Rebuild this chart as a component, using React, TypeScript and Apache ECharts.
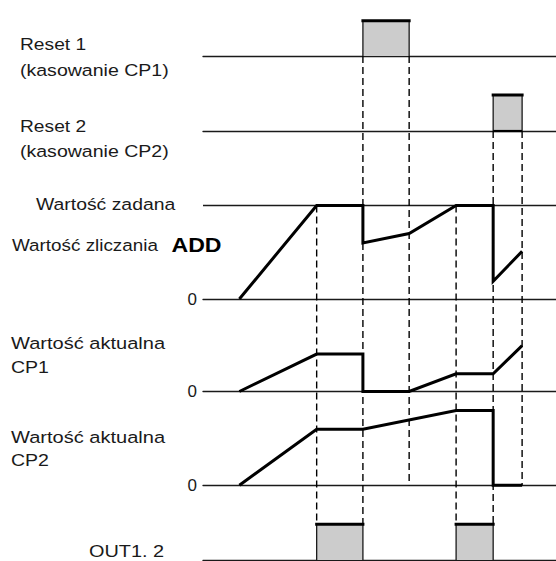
import React, { useEffect, useRef } from "react";
import * as echarts from "echarts";

// ---- data (time axis in arbitrary units 0..100, values in counter units) ----
const TIME_MAX = 100;
const SET_VALUE = 100;

const reset1Pulse = [45.3, 58.4];
const reset2Pulse = [82.2, 90.4];
const outPulseStarts = [32.2, 71.7];
const outPulseEnds = [45.3, 82.2];

const addTimes = [10.3, 32.2, 45.3, 45.3, 58.4, 71.7, 82.2, 82.2, 90.4];
const addValues = [0, 100, 100, 60, 70, 100, 100, 19, 51];

const cp1Times = [10.3, 32.2, 45.3, 45.3, 58.4, 71.7, 82.2, 90.4];
const cp1Values = [0, 40, 40, 0, 0, 19, 19, 49];

const cp2Times = [10.3, 32.2, 45.3, 71.7, 82.2, 82.2, 90.4];
const cp2Values = [0, 60, 60, 80, 80, 0, 0];

const guideTimes = [32.2, 45.3, 58.4, 71.7, 82.2, 90.4];
const guideFromRow = ["add", "reset1", "reset1", "add", "reset2", "reset2"];
const guideFromValue = [100, 0, 0, 100, 0, 0];
const guideToRow = ["out", "out", "cp2", "out", "out", "cp2"];
const guideToValue = [1, 1, 0, 1, 1, 0];

const zeroLabel = "0";

// ---- layout ----
const ROWS = ["reset1", "reset2", "add", "cp1", "cp2", "out"];
const rowLayout: Record<string, { top: number; height: number; max: number; zeroLabel: boolean }> = {
  reset1: { top: 20.7, height: 35.3, max: 1, zeroLabel: false },
  reset2: { top: 95, height: 36, max: 1, zeroLabel: false },
  add: { top: 205.5, height: 93.5, max: 100, zeroLabel: true },
  cp1: { top: 344.75, height: 46.75, max: 50, zeroLabel: true },
  cp2: { top: 410.5, height: 74.8, max: 80, zeroLabel: true },
  out: { top: 524.3, height: 35.7, max: 1, zeroLabel: false },
};

const FONT = "'Liberation Sans', Arial, Helvetica, sans-serif";
const INK = "#1a1a1a";

const textLabels = [
  { text: "Reset 1", x: 20, y: 44, sx: 1.13 },
  { text: "(kasowanie CP1)", x: 20, y: 70, sx: 1.15 },
  { text: "Reset 2", x: 20, y: 126, sx: 1.13 },
  { text: "(kasowanie CP2)", x: 20, y: 151, sx: 1.15 },
  { text: "Wartość zadana", x: 36, y: 204.5, sx: 1.14 },
  { text: "Wartość zliczania", x: 12, y: 245, sx: 1.11 },
  { text: "Wartość aktualna", x: 11, y: 343, sx: 1.18 },
  { text: "CP1", x: 11, y: 366.5, sx: 1.15 },
  { text: "Wartość aktualna", x: 11, y: 437, sx: 1.18 },
  { text: "CP2", x: 11, y: 460.3, sx: 1.15 },
  { text: "OUT1. 2", x: 89, y: 551, sx: 1.17 },
];

const zip = (ts: number[], vs: number[]) => ts.map((t, i) => [t, vs[i]]);

function pulseSeries(rowIdx: number, start: number, end: number, thickBottom: boolean) {
  const list: any[] = [
    {
      type: "line",
      xAxisIndex: rowIdx,
      yAxisIndex: rowIdx,
      data: [[start, 0], [start, 1], [end, 1], [end, 0]],
      showSymbol: false,
      clip: false,
      silent: true,
      lineStyle: { color: INK, width: 1.3 },
      areaStyle: { color: "#cccccc", opacity: 1 },
      z: 3,
    },
    {
      type: "line",
      xAxisIndex: rowIdx,
      yAxisIndex: rowIdx,
      data: [[start, 1], [end, 1]],
      showSymbol: false,
      clip: false,
      silent: true,
      lineStyle: { color: "#000", width: 3, cap: "square" },
      z: 4,
    },
  ];
  if (thickBottom) {
    list.push({
      type: "line",
      xAxisIndex: rowIdx,
      yAxisIndex: rowIdx,
      data: [[start, 0], [end, 0]],
      showSymbol: false,
      clip: false,
      silent: true,
      lineStyle: { color: "#000", width: 2.2 },
      z: 4,
    });
  }
  return list;
}

function signalSeries(rowIdx: number, data: number[][], extra: any = {}) {
  return {
    type: "line",
    xAxisIndex: rowIdx,
    yAxisIndex: rowIdx,
    data,
    showSymbol: false,
    clip: false,
    silent: true,
    lineStyle: { color: "#000", width: 3, join: "miter", cap: "butt" },
    z: 5,
    ...extra,
  };
}

export default function App() {
  const ref = useRef<HTMLDivElement>(null);

  useEffect(() => {
    if (!ref.current) return;
    const chart = echarts.init(ref.current, null, { renderer: "svg" });

    const grid = ROWS.map((r) => ({
      left: 203,
      right: 0,
      top: rowLayout[r].top,
      height: rowLayout[r].height,
      containLabel: false,
      outerBoundsMode: "none",
    }));

    const xAxis = ROWS.map((_, i) => ({
      type: "value",
      gridIndex: i,
      min: 0,
      max: TIME_MAX,
      axisLine: { show: true, onZero: true, lineStyle: { color: "#1a1a1a", width: 1.3 } },
      axisTick: { show: false },
      axisLabel: { show: false },
      splitLine: { show: false },
    }));

    const yAxis = ROWS.map((r, i) => ({
      type: "value",
      gridIndex: i,
      min: 0,
      max: rowLayout[r].max,
      interval: rowLayout[r].max,
      axisLine: { show: false },
      axisTick: { show: false },
      splitLine: { show: false },
      axisLabel: {
        show: rowLayout[r].zeroLabel,
        showMinLabel: true,
        margin: 6,
        fontSize: 17,
        fontFamily: FONT,
        color: INK,
        formatter: (v: number) => (v === 0 ? zeroLabel : ""),
      },
    }));

    const idx = (r: string) => ROWS.indexOf(r);

    const series: any[] = [
      ...pulseSeries(idx("reset1"), reset1Pulse[0], reset1Pulse[1], false),
      ...pulseSeries(idx("reset2"), reset2Pulse[0], reset2Pulse[1], true),
      ...outPulseStarts.flatMap((s, i) => pulseSeries(idx("out"), s, outPulseEnds[i], false)),
      signalSeries(idx("add"), zip(addTimes, addValues), {
        markLine: {
          silent: true,
          symbol: "none",
          label: { show: false },
          lineStyle: { color: "#1a1a1a", width: 1.3, type: "solid" },
          data: [{ yAxis: SET_VALUE }],
          z: 1,
        },
      }),
      signalSeries(idx("cp1"), zip(cp1Times, cp1Values)),
      signalSeries(idx("cp2"), zip(cp2Times, cp2Values)),
    ];

    chart.setOption({
      animation: false,
      backgroundColor: "#ffffff",
      grid,
      xAxis,
      yAxis,
      series,
    });

    const guideLines = guideTimes.map((t, i) => {
      const p1 = chart.convertToPixel({ gridIndex: idx(guideFromRow[i]) }, [t, guideFromValue[i]]) as number[];
      const p2 = chart.convertToPixel({ gridIndex: idx(guideToRow[i]) }, [t, guideToValue[i]]) as number[];
      return {
        type: "line",
        z: 1,
        silent: true,
        shape: { x1: p1[0], y1: p1[1], x2: p2[0], y2: p2[1] },
        style: { stroke: "#000", lineWidth: 1.4, lineDash: [7, 4] },
      };
    });

    const texts: any[] = textLabels.map((l) => ({
      type: "text",
      x: l.x,
      y: l.y,
      scaleX: l.sx,
      silent: true,
      z: 10,
      style: {
        text: l.text,
        x: 0,
        y: 0,
        fill: INK,
        fontSize: 17,
        fontFamily: FONT,
        textAlign: "left",
        textVerticalAlign: "middle",
      },
    }));

    texts.push({
      type: "text",
      x: 171.5,
      y: 244.5,
      scaleX: 1.1,
      silent: true,
      z: 10,
      style: {
        text: "ADD",
        x: 0,
        y: 0,
        fill: "#000",
        fontSize: 21,
        fontWeight: "bold",
        fontFamily: FONT,
        textAlign: "left",
        textVerticalAlign: "middle",
      },
    });

    chart.setOption({ graphic: { elements: [...guideLines, ...texts] } });

    return () => chart.dispose();
  }, []);

  return (
    <div
      ref={ref}
      style={{ position: "fixed", left: 0, top: 0, width: 556, height: 561, background: "#fff" }}
    />
  );
}
